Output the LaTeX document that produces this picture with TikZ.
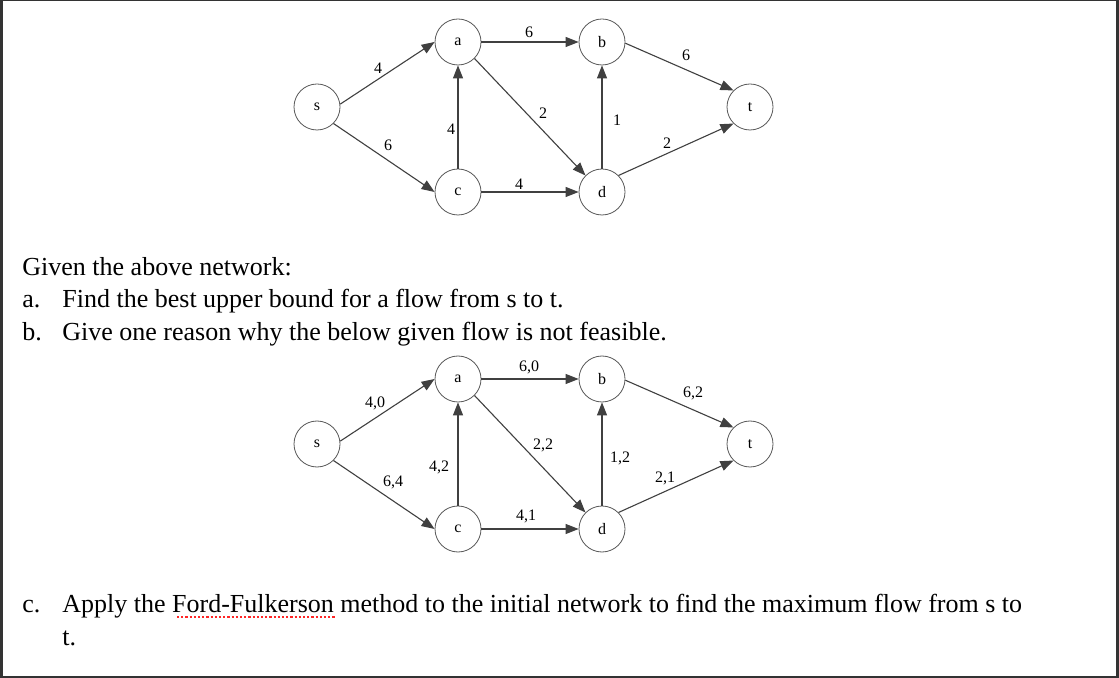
\documentclass[tikz,border=0pt]{standalone}
\usepackage{fontspec}
\setmainfont{Liberation Serif}
\usetikzlibrary{arrows.meta,positioning,calc}

\begin{document}
\begin{tikzpicture}[
    x=0.5pt, y=-0.5pt,
    vert/.style={draw=black!65, circle, minimum size=23pt, inner sep=0pt, fill=white, font=\fontsize{8}{9}\selectfont},
    wire/.style={draw=black!75, line width=0.55pt, -{Triangle[length=6.5pt,width=5pt]}},
    weight/.style={inner sep=0pt, font=\fontsize{8}{9}\selectfont},
    txt/.style={anchor=base west, inner sep=0pt, font=\fontsize{13}{15}\selectfont}
  ]
  % screenshot frame
  \fill[black!80] (0,0) rectangle (1119,678);
  \fill[white] (3,1) rectangle (1116,676);

  % network with capacities
  \node[vert] (s) at (317,107) {s};
  \node[vert] (a) at (458,42) {a};
  \node[vert] (b) at (602,42) {b};
  \node[vert] (c) at (458,192) {c};
  \node[vert] (d) at (602,192) {d};
  \node[vert] (t) at (750,107) {t};

  \draw[wire] (s.7) -- (a.west);
  \draw[wire] (s.south east) -- (c.west);
  \draw[wire] (c) -- (a);
  \draw[wire] (a) -- (b);
  \draw[wire] (a.south east) -- (d.north west);
  \draw[wire] (d) -- (b);
  \draw[wire] (c) -- (d);
  \draw[wire] (b.-3) -- (t.north west);
  \draw[wire] (d.north east) -- (t.south west);

  \node[weight] (sa) at (378,68) {4};
  \node[weight] (sc) at (388,145) {6};
  \node[weight] (ca) at (451,129) {4};
  \node[weight] (ab) at (529,32) {6};
  \node[weight] (ad) at (543,113) {2};
  \node[weight] (db) at (617,120) {1};
  \node[weight] (cd) at (519,184) {4};
  \node[weight] (bt) at (686,55) {6};
  \node[weight] (dt) at (667,143) {2};

  \node[txt] (given) at (22,276) {Given the above network:};
  \node[txt] (qa) at (22,308) {a.};
  \node[txt] (qatext) at (62,308) {Find the best upper bound for a flow from s to t.};
  \node[txt] (qb) at (22,341) {b.};
  \node[txt] (qbtext) at (62,341) {Give one reason why the below given flow is not feasible.};

  % the same network with a flow
  \begin{scope}[shift={(0,337)}]
    \node[vert] (s2) at (317,107) {s};
    \node[vert] (a2) at (458,42) {a};
    \node[vert] (b2) at (602,42) {b};
    \node[vert] (c2) at (458,192) {c};
    \node[vert] (d2) at (602,192) {d};
    \node[vert] (t2) at (750,107) {t};

    \draw[wire] (s2.7) -- (a2.west);
    \draw[wire] (s2.south east) -- (c2.west);
    \draw[wire] (c2) -- (a2);
    \draw[wire] (a2) -- (b2);
    \draw[wire] (a2.south east) -- (d2.north west);
    \draw[wire] (d2) -- (b2);
    \draw[wire] (c2) -- (d2);
    \draw[wire] (b2.-3) -- (t2.north west);
    \draw[wire] (d2.north east) -- (t2.south west);

    \node[weight] (sa2) at (375,66) {4,0};
    \node[weight] (sc2) at (393,145) {6,4};
    \node[weight] (ca2) at (439,130) {4,2};
    \node[weight] (ab2) at (529,30) {6,0};
    \node[weight] (ad2) at (543,108) {2,2};
    \node[weight] (db2) at (620,121) {1,2};
    \node[weight] (cd2) at (526,179) {4,1};
    \node[weight] (bt2) at (693,56) {6,2};
    \node[weight] (dt2) at (665,141) {2,1};
  \end{scope}

  \node[txt] (qc) at (22,612) {c.};
  \node[txt] (qctext) at (62,612) {Apply the Ford-Fulkerson method to the initial network to find the maximum flow from s to};
  \node[txt] (qcwrap) at (62,645) {t.};
  \draw[red!85, densely dotted, line width=1.1pt] (177,617) -- (336,617);
\end{tikzpicture}
\end{document}
